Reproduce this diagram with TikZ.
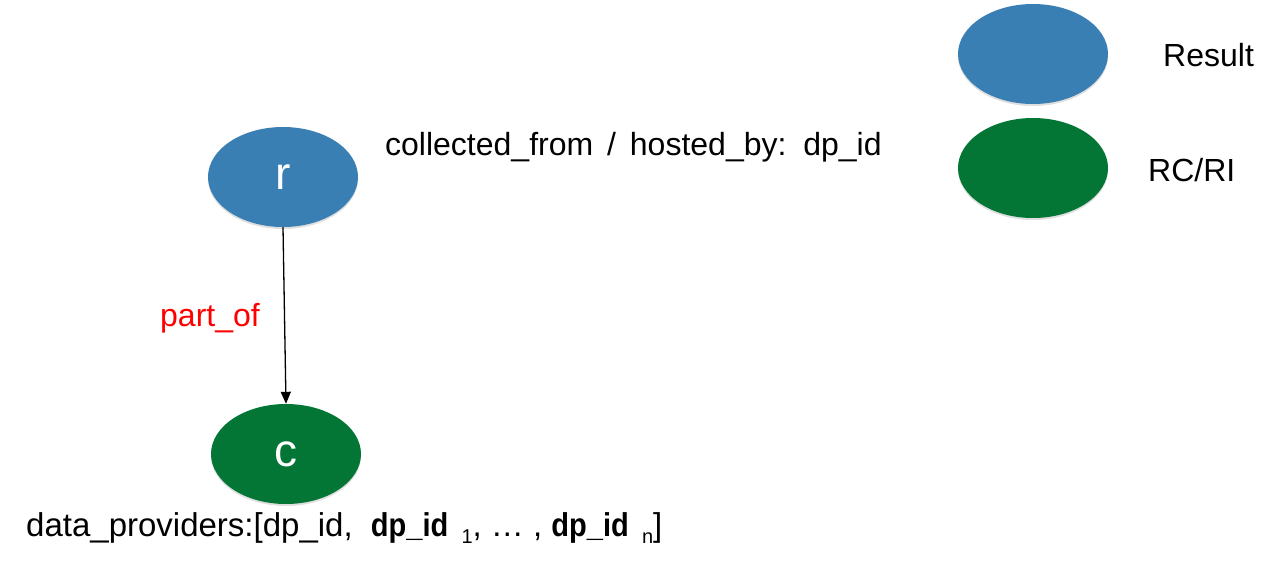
\documentclass[tikz,border=0pt]{standalone}
\usepackage{fontspec}
\setmainfont{Liberation Sans}
\usetikzlibrary{arrows.meta,shadows,shapes.geometric}
\definecolor{resblue}{HTML}{3A7FB4}
\definecolor{rcgreen}{HTML}{037535}
\newcommand{\bigtxt}{\fontsize{32}{38}\selectfont}
\newcommand{\lettxt}{\fontsize{46}{50}\selectfont}
\newcommand{\subtxt}[1]{\raisebox{-7pt}{\fontsize{20}{20}\selectfont #1}}
\newcommand{\bdp}{\scalebox{0.88}[1]{\textbf{dp\_id}}}
\begin{document}
\begin{tikzpicture}[x=1pt,y=-1pt,
  blob/.style={ellipse,minimum width=150pt,minimum height=100pt,inner sep=0pt,
    text=white,font=\lettxt,drop shadow={shadow xshift=0pt,shadow yshift=-2pt,opacity=0.25}},
  result/.style={blob,fill=resblue},
  rcri/.style={blob,fill=rcgreen},
  lbl/.style={font=\bigtxt,inner sep=0pt,anchor=west},
  conn/.style={line width=1.3pt,-{Triangle[length=12pt,width=10pt]}}]
\useasboundingbox (0,0) rectangle (1285,568);
\node[result] (r) at (283,177) {r};
\node[rcri] (c) at (286,454) {c};
\node[result] (legres) at (1033,54) {};
\node[rcri] (legrc) at (1033,168) {};
\node[lbl] (tres) at (1163,55) {Result};
\node[lbl] (trc) at (1148,170) {RC/RI};
\node[lbl] (coll) at (385,147) {collected\_from\hspace{5pt} /\hspace{5pt} hosted\_by:\hspace{5pt} dp\_id};
\node[lbl,text=red] (part) at (160,318) {part\_of};
\node[lbl,font=\fontsize{33}{38}\selectfont] (dp) at (26,528) {data\_providers:[dp\_id,\hspace{9pt} \bdp\hspace{4pt} \subtxt{1}, … , \bdp\hspace{4pt} \subtxt{n}]};
\draw[conn] (r.south) -- (c.north);
\end{tikzpicture}
\end{document}
